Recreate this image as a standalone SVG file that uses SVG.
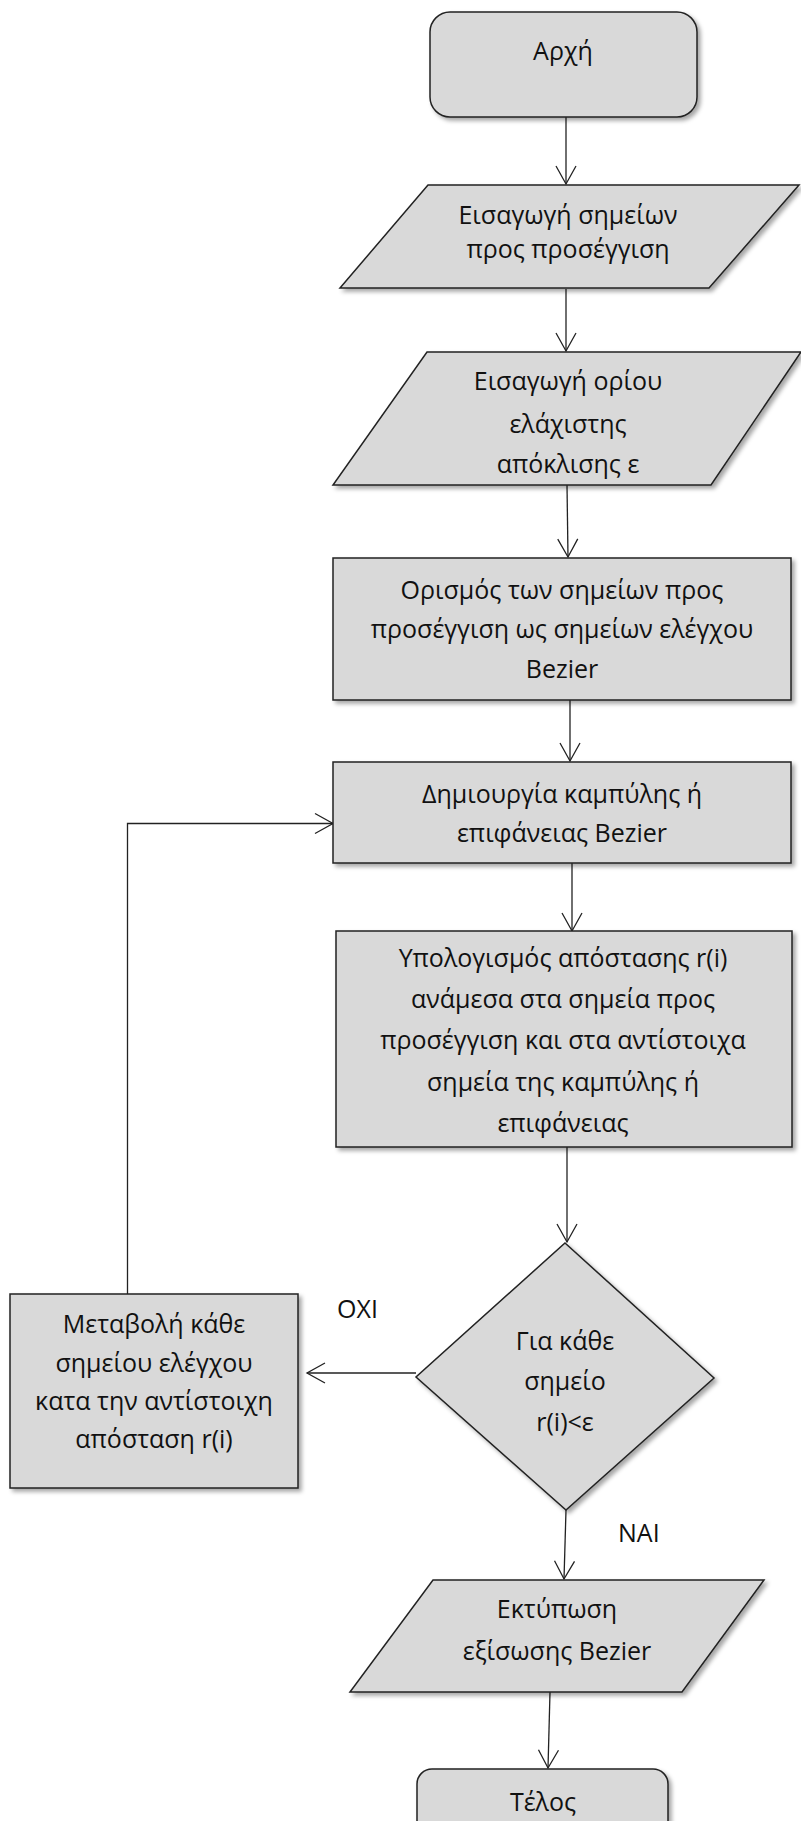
<svg xmlns="http://www.w3.org/2000/svg" width="801" height="1821" viewBox="0 0 801 1821">
<style>
.n{fill:#d9d9d9;stroke:#222;stroke-width:1.5;filter:url(#sh)}
.t{font-family:"Open Sans","Noto Sans","DejaVu Sans",sans-serif;font-size:25px;fill:#111;text-anchor:middle}
.l{font-family:"Open Sans","Noto Sans","DejaVu Sans",sans-serif;font-size:25px;fill:#111}
.c{fill:none;stroke:#222;stroke-width:1.3;marker-end:url(#ah)}
</style>
<defs>
<filter id="sh" x="-10%" y="-10%" width="120%" height="120%">
<feDropShadow dx="3" dy="3" stdDeviation="2" flood-color="#000" flood-opacity="0.35"/>
</filter>
<marker id="ah" markerUnits="userSpaceOnUse" markerWidth="24" markerHeight="24" viewBox="-20 -12 22 24" refX="0" refY="0" orient="auto">
<path d="M-18,-10 L0,0 L-18,10" fill="none" stroke="#222" stroke-width="1.3"/>
</marker>
</defs>
<rect width="801" height="1821" fill="#fff"/>
<g id="connectors">
<path class="c" d="M566,117 L566,184"/>
<path class="c" d="M566,289 L566,351"/>
<path class="c" d="M567,485 L568,557"/>
<path class="c" d="M570,700 L570,761"/>
<path class="c" d="M572,863 L572,931"/>
<path class="c" d="M567,1147 L567,1242"/>
<path class="c" d="M416,1373 L307,1373"/>
<path class="c" d="M127.5,1294 L127.5,823.5 L333,823.5"/>
<path class="c" d="M566,1510 L564,1579"/>
<path class="c" d="M550,1692 L548,1768"/>
</g>
<g id="start">
<rect class="n" x="430" y="12" width="267" height="105" rx="20"/>
<text class="t" x="563" y="60">Αρχή</text>
</g>
<g id="input-points">
<polygon class="n" points="428,185 799,185 709,288 340,288"/>
<text class="t" x="568" y="224">Εισαγωγή σημείων</text>
<text class="t" x="568" y="258">προς προσέγγιση</text>
</g>
<g id="input-epsilon">
<polygon class="n" points="427,352 801,352 711,485 333,485"/>
<text class="t" x="568" y="390">Εισαγωγή ορίου</text>
<text class="t" x="568" y="433">ελάχιστης</text>
<text class="t" x="568" y="473">απόκλισης ε</text>
</g>
<g id="define-control">
<rect class="n" x="333" y="558" width="458" height="142"/>
<text class="t" x="562" y="599">Ορισμός των σημείων προς</text>
<text class="t" x="562" y="638">προσέγγιση ως σημείων ελέγχου</text>
<text class="t" x="562" y="678">Bezier</text>
</g>
<g id="create-bezier">
<rect class="n" x="333" y="762" width="458" height="101"/>
<text class="t" x="562" y="803">Δημιουργία καμπύλης ή</text>
<text class="t" x="562" y="842">επιφάνειας Bezier</text>
</g>
<g id="compute-distance">
<rect class="n" x="336" y="931" width="456" height="216"/>
<text class="t" x="563" y="967">Υπολογισμός απόστασης r(i)</text>
<text class="t" x="563" y="1008">ανάμεσα στα σημεία προς</text>
<text class="t" x="563" y="1049">προσέγγιση και στα αντίστοιχα</text>
<text class="t" x="563" y="1091">σημεία της καμπύλης ή</text>
<text class="t" x="563" y="1132">επιφάνειας</text>
</g>
<g id="decision">
<polygon class="n" points="565,1243 714,1378 566,1510 416,1377"/>
<text class="t" x="565" y="1350">Για κάθε</text>
<text class="t" x="565" y="1390">σημείο</text>
<text class="t" x="565" y="1431">r(i)&lt;ε</text>
</g>
<g id="adjust">
<rect class="n" x="10" y="1294" width="288" height="194"/>
<text class="t" x="154" y="1333">Μεταβολή κάθε</text>
<text class="t" x="154" y="1372">σημείου ελέγχου</text>
<text class="t" x="154" y="1410">κατα την αντίστοιχη</text>
<text class="t" x="154" y="1448">απόσταση r(i)</text>
</g>
<g id="labels">
<text class="l" x="337" y="1318">ΟΧΙ</text>
<text class="l" x="618" y="1542">ΝΑΙ</text>
</g>
<g id="print">
<polygon class="n" points="433,1580 764,1580 682,1692 350,1692"/>
<text class="t" x="557" y="1618">Εκτύπωση</text>
<text class="t" x="557" y="1660">εξίσωσης Bezier</text>
</g>
<g id="end">
<rect class="n" x="417" y="1769" width="251" height="80" rx="15"/>
<text class="t" x="543" y="1811">Τέλος</text>
</g>
</svg>
